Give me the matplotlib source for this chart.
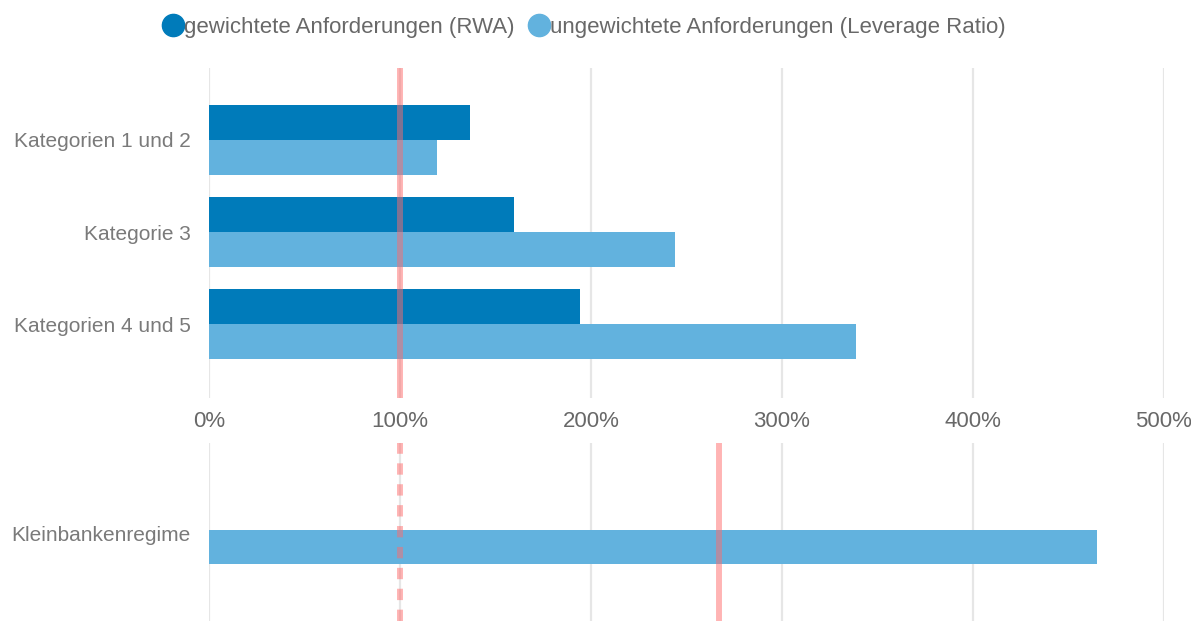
import matplotlib.pyplot as plt
import matplotlib.transforms as mtransforms
import numpy as np
from matplotlib.lines import Line2D

plt.rcParams["font.family"] = ["Liberation Sans", "DejaVu Sans"]

categories = ["Kategorien 1 und 2", "Kategorie 3", "Kategorien 4 und 5"]
rwa = [136.5, 159.5, 194.0]
leverage = [119.5, 244.0, 338.5]
small_bank_label = ["Kleinbankenregime"]
small_bank_value = [465.0]
threshold_top = 100
threshold_small_dashed = 100
threshold_small_solid = 267
xticks = [0, 100, 200, 300, 400, 500]
series_names = ["gewichtete Anforderungen (RWA)", "ungewichtete Anforderungen (Leverage Ratio)"]

DARK = "#007bba"
LIGHT = "#62b2de"
RED = "#ff6b6b"
GRID = "#e6e6e6"
TEXT = "#7a7a7a"
TEXT_DARK = "#686868"

fig = plt.figure(figsize=(11.91, 6.21), dpi=100)
ax_top = fig.add_axes([0.1755, 0.359, 0.8018, 0.5314])
ax_bot = fig.add_axes([0.1755, 0.0, 0.8018, 0.2866])

h = 0.38
y = np.arange(len(categories))
ax_top.barh(y - h / 2, rwa, height=h, color=DARK, zorder=2)
ax_top.barh(y + h / 2, leverage, height=h, color=LIGHT, zorder=2)
ax_top.axvline(threshold_top, color=RED, alpha=0.5, lw=4.3, zorder=3)
ax_top.set_ylim(2.8, -0.78)
ax_top.set_yticks(y)
ax_top.set_yticklabels(categories)

yb = np.arange(len(small_bank_label))
ax_bot.barh(yb, small_bank_value, height=0.37, color=LIGHT, zorder=2)
ax_bot.axvline(threshold_small_dashed, color=RED, alpha=0.5, lw=4.3,
               linestyle=(0, (1.9, 1.6)), zorder=3)
ax_bot.axvline(threshold_small_solid, color=RED, alpha=0.5, lw=4.3, zorder=3)
ax_bot.set_ylim(0.80, -1.13)
ax_bot.set_yticks(yb)
ax_bot.set_yticklabels(small_bank_label)

for ax in (ax_top, ax_bot):
    ax.set_xlim(0, 500)
    ax.set_xticks(xticks)
    ax.grid(axis="x", color=GRID, lw=1.6, zorder=0)
    for s in ax.spines.values():
        s.set_visible(False)
    ax.tick_params(axis="y", length=0, pad=13, labelsize=15, labelcolor=TEXT)

# the small-bank label sits a little above the bar centre in the original
shift = mtransforms.ScaledTranslation(0, 0.14, fig.dpi_scale_trans)
for lbl in ax_bot.get_yticklabels():
    lbl.set_transform(lbl.get_transform() + shift)

ax_top.set_xticklabels([f"{t}%" for t in xticks])
ax_top.tick_params(axis="x", length=0, pad=9, labelsize=16, labelcolor=TEXT_DARK)
ax_bot.tick_params(axis="x", length=0, labelbottom=False)

handles = [Line2D([], [], marker="o", ls="", markersize=16, color=c) for c in (DARK, LIGHT)]
fig.legend(handles, series_names, loc="upper center", bbox_to_anchor=(0.49, 1.005),
           ncol=2, frameon=False, fontsize=16, labelcolor=TEXT_DARK,
           handletextpad=0.0, columnspacing=0.6, handlelength=1.0)

fig.savefig("out.png", dpi=100)
